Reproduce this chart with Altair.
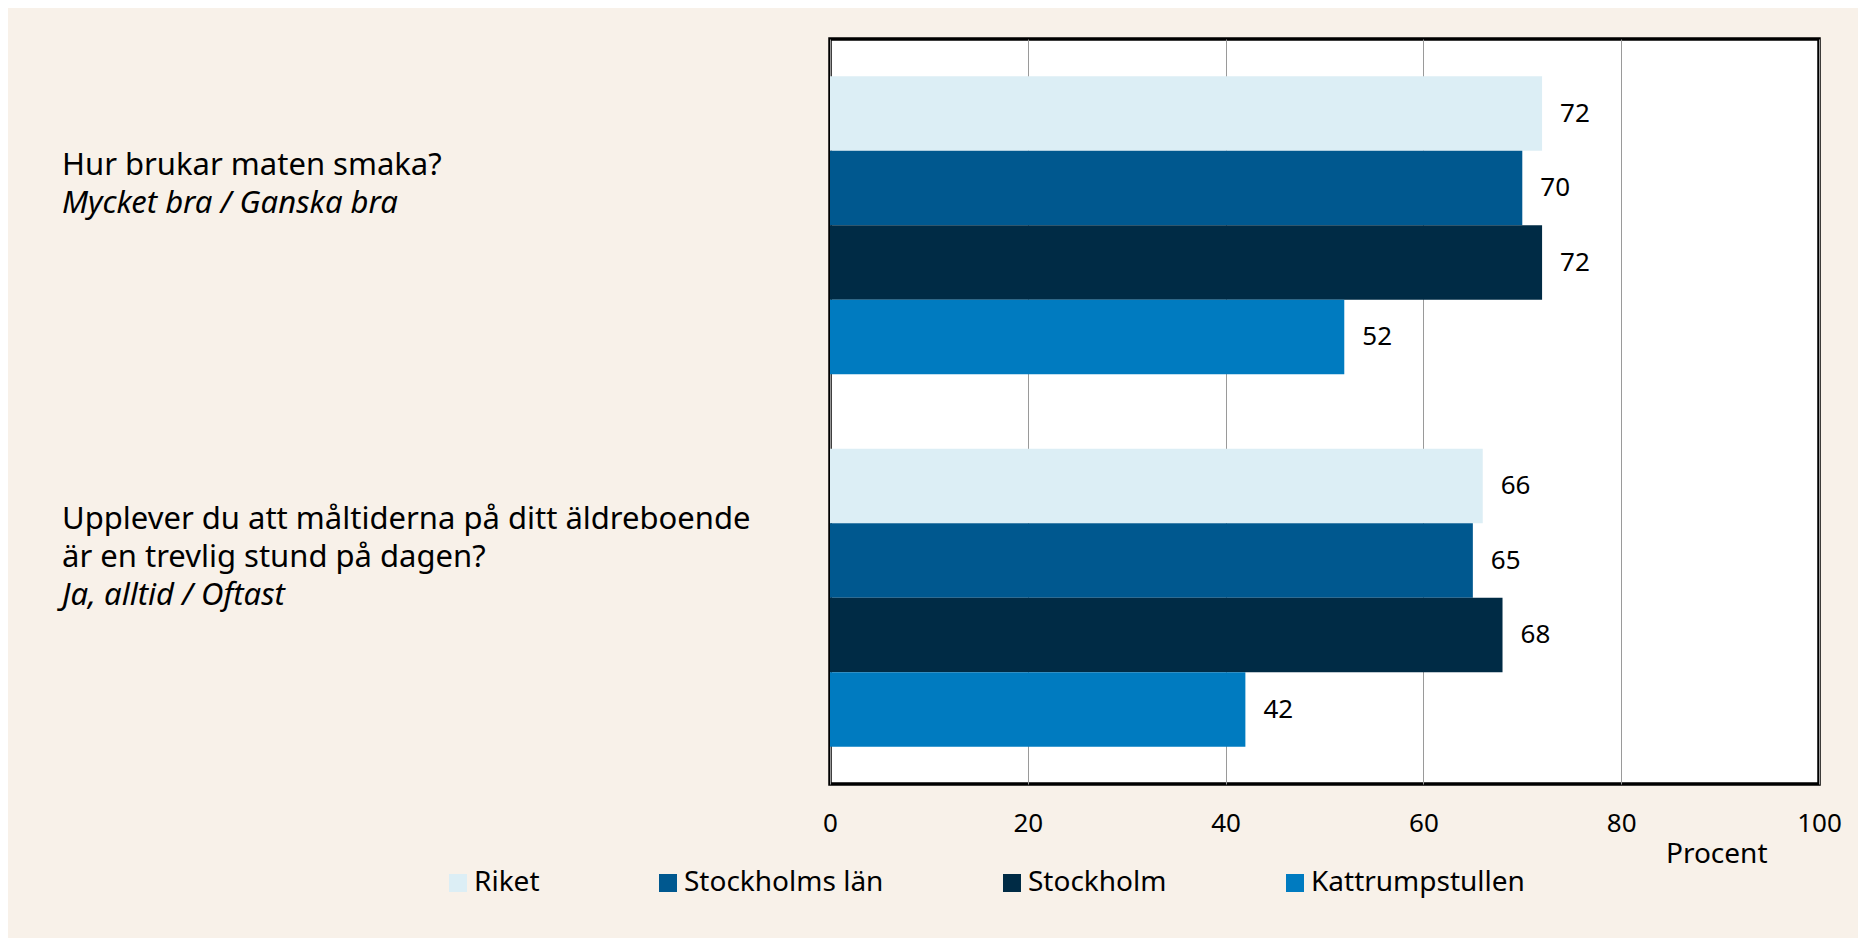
import altair as alt
import pandas as pd

# ---- data ----
group_keys = ["q1", "q2"]
question_lines = [
    ["Hur brukar maten smaka?"],
    ["Upplever du att måltiderna på ditt äldreboende", "är en trevlig stund på dagen?"],
]
answers = ["Mycket bra / Ganska bra", "Ja, alltid / Oftast"]
series = ["Riket", "Stockholms län", "Stockholm", "Kattrumpstullen"]
colors = ["#DCEEF5", "#00588F", "#002B45", "#007BC0"]
values_q1 = [72, 70, 72, 52]
values_q2 = [66, 65, 68, 42]
x_ticks = [0, 20, 40, 60, 80, 100]

rows = []
for g, vals in zip(group_keys, [values_q1, values_q2]):
    for s, v in zip(series, vals):
        rows.append({"group": g, "series": s, "value": v})
df = pd.DataFrame(rows)

# one row per label line; the block of lines is centred a little above the band centre
LINE_H = 38
BLOCK_SHIFT = -40
line_rows = []
for g, ql, a in zip(group_keys, question_lines, answers):
    lines = [(t, "normal") for t in ql] + [(a, "italic")]
    n = len(lines)
    for i, (t, st) in enumerate(lines):
        off = int(round(BLOCK_SHIFT + (i - (n - 1) / 2) * LINE_H))
        line_rows.append({"group": g, "text": t, "style": st, "off": off})
lines_df = pd.DataFrame(line_rows)

FONT = "Noto Sans"

y_enc = alt.Y(
    "group:N",
    sort=group_keys,
    scale=alt.Scale(domain=group_keys, paddingInner=0.2, paddingOuter=0.1),
    axis=None,
)
y_off = alt.YOffset(
    "series:N",
    sort=series,
    scale=alt.Scale(domain=series, paddingInner=0, paddingOuter=0),
)
x_enc = alt.X(
    "value:Q",
    scale=alt.Scale(domain=[0, 100], nice=False),
    axis=alt.Axis(
        values=x_ticks,
        grid=True,
        gridColor="#9a9a9a",
        gridWidth=1,
        ticks=False,
        domain=False,
        labelFont=FONT,
        labelFontSize=26,
        labelColor="black",
        labelPadding=26,
        labelFlush=False,
        title="Procent",
        titleFont=FONT,
        titleFontSize=28,
        titleFontWeight="normal",
        titleColor="black",
        titleX=937,
        titleY=70,
        titleAlign="right",
        titleBaseline="middle",
    ),
)

bars = alt.Chart(df).mark_bar().encode(
    x=x_enc,
    y=y_enc,
    yOffset=y_off,
    color=alt.Color(
        "series:N",
        sort=series,
        scale=alt.Scale(domain=series, range=colors),
        legend=alt.Legend(
            title=None,
            orient="none",
            legendX=-386,
            legendY=830,
            direction="horizontal",
            columns=4,
            symbolType="square",
            symbolSize=324,
            symbolStrokeWidth=0,
            labelFont=FONT,
            labelFontSize=28,
            labelColor="black",
            labelOffset=2,
            labelLimit=0,
            columnPadding=114,
        ),
    ),
)

value_text = alt.Chart(df).mark_text(
    align="left", baseline="middle", dx=18, font=FONT, fontSize=26, color="black"
).encode(
    x="value:Q",
    y=y_enc,
    yOffset=y_off,
    text="value:Q",
)

label_layers = []
for (st, off), sub in lines_df.groupby(["style", "off"]):
    label_layers.append(
        alt.Chart(sub).mark_text(
            align="left", baseline="middle", dy=int(off),
            font=FONT, fontSize=31, fontStyle=st, color="black"
        ).encode(
            x=alt.value(-768),
            y=y_enc,
            text="text:N",
        )
    )

chart = alt.layer(bars, value_text, *label_layers).properties(
    width=989,
    height=745,
    autosize=alt.AutoSizeParams(type="none"),
    padding={"left": 822, "top": 31, "right": 39, "bottom": 154},
    background="#F8F1E9",
).configure_view(
    stroke="black", strokeWidth=3.5, fill="white"
)

chart.save("out.html", embed_options={"renderer": "svg", "actions": False})
